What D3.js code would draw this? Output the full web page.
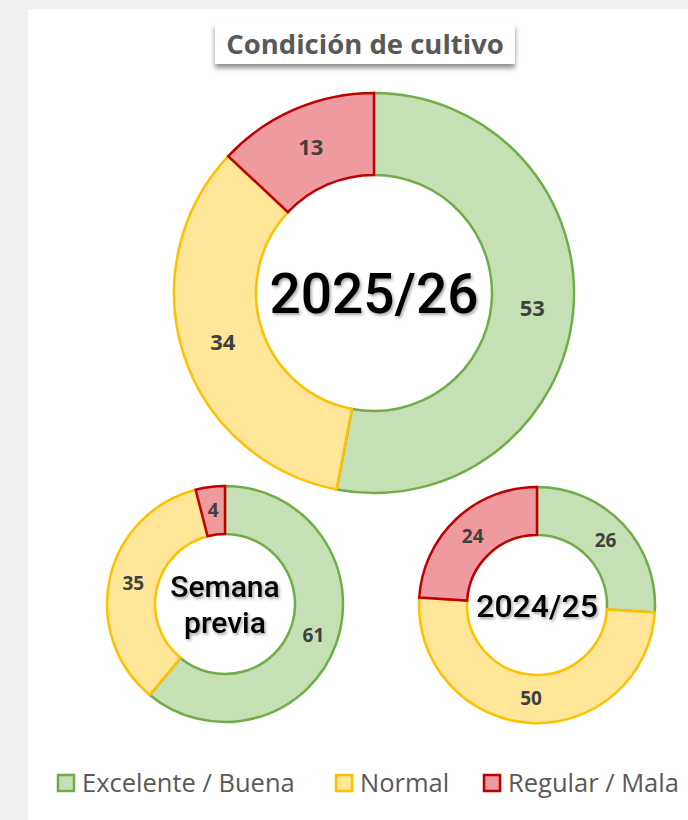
<!DOCTYPE html>
<html>
<head>
<meta charset="utf-8">
<script src="https://cdn.jsdelivr.net/npm/d3@7"></script>
<style>
  body { margin: 0; background: #f0f0f0; }
  svg { display: block; }
</style>
</head>
<body>
<div id="chart"></div>
<script>
const categories = ["Excelente / Buena", "Normal", "Regular / Mala"];
const fills = ["#c5e0b4", "#ffe699", "#ef9a9e"];
const strokes = ["#70ad47", "#ffc000", "#c00000"];

const actual = [53, 34, 13];      // 2025/26
const semanaPrevia = [61, 35, 4];
const anterior = [26, 50, 24];    // 2024/25

const W = 688, H = 820;

const svg = d3.select('#chart').append('svg')
  .attr('width', W)
  .attr('height', H);

const defs = svg.append('defs');
defs.append('filter').attr('id', 'boxShadow')
  .attr('x', '-10%').attr('y', '-20%').attr('width', '120%').attr('height', '160%')
  .append('feDropShadow')
  .attr('dx', 0).attr('dy', 4).attr('stdDeviation', 2.5)
  .attr('flood-color', '#000').attr('flood-opacity', 0.45);
defs.append('filter').attr('id', 'txtShadow')
  .attr('x', '-10%').attr('y', '-20%').attr('width', '120%').attr('height', '140%')
  .append('feDropShadow')
  .attr('dx', 1.5).attr('dy', 2).attr('stdDeviation', 1.5)
  .attr('flood-color', '#000').attr('flood-opacity', 0.35);

// white panel
svg.append('rect')
  .attr('x', 28).attr('y', 9)
  .attr('width', W - 28).attr('height', H - 9)
  .attr('fill', '#fff');

// title
const titleG = svg.append('g');
titleG.append('rect')
  .attr('x', 215).attr('y', 23)
  .attr('width', 300).attr('height', 41)
  .attr('fill', '#fff')
  .attr('filter', 'url(#boxShadow)');
titleG.append('text')
  .attr('x', 365).attr('y', 54)
  .attr('text-anchor', 'middle')
  .attr('font-family', 'Open Sans, sans-serif')
  .attr('font-weight', 700)
  .attr('font-size', 27.5)
  .attr('fill', '#595959')
  .text('Condición de cultivo');

const pie = d3.pie().sort(null).value(d => d);

function donut(values, cx, cy, rOut, rIn, labelSize, centerLines, centerSize, centerWeight) {
  const g = svg.append('g').attr('transform', `translate(${cx},${cy})`);
  const arc = d3.arc().innerRadius(rIn).outerRadius(rOut);
  const labelArc = d3.arc().innerRadius((rIn + rOut) / 2).outerRadius((rIn + rOut) / 2);
  const arcs = pie(values);

  g.selectAll('path')
    .data(arcs)
    .join('path')
    .attr('d', arc)
    .attr('fill', (d, i) => fills[i])
    .attr('stroke', (d, i) => strokes[i])
    .attr('stroke-width', 2.5)
    .attr('stroke-linejoin', 'miter');

  g.selectAll('.val')
    .data(arcs)
    .join('text')
    .attr('class', 'val')
    .attr('transform', d => `translate(${labelArc.centroid(d)})`)
    .attr('text-anchor', 'middle')
    .attr('dy', '0.35em')
    .attr('font-family', 'Open Sans, sans-serif')
    .attr('font-weight', 700)
    .attr('font-size', labelSize)
    .attr('fill', '#404040')
    .text(d => d.data);

  const lh = centerSize * 1.22;
  const t = g.append('text')
    .attr('text-anchor', 'middle')
    .attr('font-family', 'Roboto, sans-serif')
    .attr('font-weight', centerWeight)
    .attr('font-size', centerSize)
    .attr('fill', '#000')
    .attr('filter', 'url(#txtShadow)');
  centerLines.forEach((s, i) => {
    t.append('tspan')
      .attr('x', 0)
      .attr('y', (i - (centerLines.length - 1) / 2) * lh)
      .attr('dy', '0.36em')
      .text(s);
  });
}

donut(actual, 374, 293, 200, 118, 22, ['2025/26'], 55, 500);
donut(semanaPrevia, 225, 604, 118, 70, 19, ['Semana', 'previa'], 30, 500);
donut(anterior, 537, 605, 118, 70, 19, ['2024/25'], 32, 500);

// legend
const legendX = [57, 335, 483];
const leg = svg.append('g').attr('transform', 'translate(0,783)');
const items = leg.selectAll('g')
  .data(categories)
  .join('g')
  .attr('transform', (d, i) => `translate(${legendX[i]},0)`);
items.append('rect')
  .attr('x', 1).attr('y', -8)
  .attr('width', 16).attr('height', 16)
  .attr('fill', (d, i) => fills[i])
  .attr('stroke', (d, i) => strokes[i])
  .attr('stroke-width', 2.5);
items.append('text')
  .attr('x', 25)
  .attr('dy', '0.35em')
  .attr('font-family', 'Open Sans, sans-serif')
  .attr('font-size', 25.5)
  .attr('fill', '#595959')
  .text(d => d);
</script>
</body>
</html>
